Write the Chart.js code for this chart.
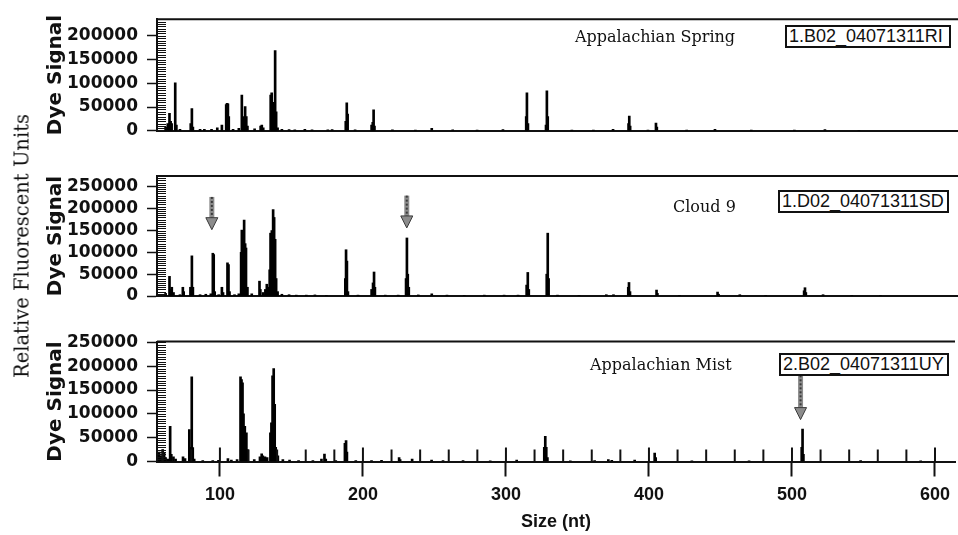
<!DOCTYPE html>
<html>
<head>
<meta charset="utf-8">
<script src="https://cdn.jsdelivr.net/npm/chart.js@4.4.1/dist/chart.umd.min.js"></script>
<style>
  body { margin: 0; background: #fff; }
  #wrap { position: relative; width: 958px; height: 535px; overflow: hidden; background: #fff; }
  #wrap canvas { position: absolute; left: 0; }
  .name { position: absolute; font-family: "DejaVu Serif"; font-size: 16px; color: #111; white-space: nowrap; line-height: 20px; }
  .tag { position: absolute; font-family: "Liberation Sans"; font-size: 18px; line-height: 19px; height: 23px;
         border: 2px solid #111; padding: 0 2px; box-sizing: border-box; color: #111; white-space: nowrap; background: #fff; }
  #rfu { position: absolute; left: 22px; top: 246px; transform: translate(-50%, -50%) rotate(-90deg);
         font-family: "DejaVu Serif"; font-size: 19.5px; color: #111; white-space: nowrap; }
</style>
</head>
<body>
<div id="wrap">
  <canvas id="spring" width="958" height="150" style="top:0px"></canvas>
  <canvas id="cloud" width="958" height="166" style="top:150px"></canvas>
  <canvas id="mist" width="958" height="219" style="top:316px"></canvas>

  <div id="rfu">Relative Fluorescent Units</div>

  <div class="name" style="left:575px; top:27px">Appalachian Spring</div>
  <div class="tag" style="left:785px; top:25px; width:166px">1.B02_04071311RI</div>

  <div class="name" style="left:673px; top:197px">Cloud 9</div>
  <div class="tag" style="left:778px; top:190px; width:171px">1.D02_04071311SD</div>

  <div class="name" style="left:590px; top:355px">Appalachian Mist</div>
  <div class="tag" style="left:779px; top:353px; width:170px">2.B02_04071311UY</div>
</div>

<script>
// size range (nt) and ticks
const xMin = 56, xMax = 614;
const sizeTicks = [60, 80, 100, 120, 140, 160, 180, 200, 220, 240, 260, 280, 300, 320, 340, 360, 380, 400,
  420, 440, 460, 480, 500, 520, 540, 560, 580, 600];
const sizeLabels = [100, 200, 300, 400, 500, 600];
const springTicks = [0, 50000, 100000, 150000, 200000];
const cloudTicks = [0, 50000, 100000, 150000, 200000, 250000];
const mistTicks = [0, 50000, 100000, 150000, 200000, 250000];
const yMinorStep = 5000;

// Appalachian Spring - peak sizes (nt) and heights (RFU)
const springSizes = [62, 63.5, 64.7, 65.5, 66.2, 68.7, 69.5, 72, 79.5, 80.3, 81, 86, 89, 94, 98, 101.2,
  104.2, 104.8, 105.4, 106, 109, 113, 115.1, 115.8, 116.4, 117.4, 118.2, 119, 124, 128.2, 129, 130,
  135.2, 135.9, 136.6, 137.5, 138.3, 139, 140, 143, 148, 152, 159, 164, 175, 178, 187.5, 188.2, 188.8,
  194, 205.5, 206.3, 206.9, 207.5, 220, 236, 247.4, 262, 279, 297, 313.2, 313.7, 314.4, 327, 327.6,
  328.2, 345, 360, 373.7, 384.5, 385, 385.6, 398, 403.6, 404.2, 425, 444.7, 470, 500, 521.3, 545];
const springHeights = [8000, 15000, 37000, 20000, 15000, 101000, 12000, 3000, 15000, 47000, 8000, 3000, 3000, 3000, 6000, 12000,
  55000, 58000, 57000, 30000, 3000, 5000, 75000, 25000, 30000, 51000, 30000, 10000, 4000, 10000, 12000, 6000,
  75000, 80000, 45000, 60000, 169000, 40000, 6000, 3000, 2500, 2000, 3000, 2000, 2000, 2500, 20000, 59000, 35000,
  2000, 12000, 18000, 44000, 10000, 2000, 1500, 5000, 2000, 1500, 2500, 30000, 80000, 15000, 12000, 84000,
  30000, 1500, 1500, 3000, 15000, 31000, 10000, 1500, 16000, 8000, 1500, 3000, 1500, 1500, 2500, 1000];

// Cloud 9
const cloudSizes = [62, 64.7, 65.5, 66.3, 67.5, 72, 74, 74.6, 79.3, 80.3, 81, 86, 90, 93.5, 94.9, 95.5, 96.2, 99,
  101.2, 102, 105.1, 105.8, 106.5, 110, 113, 114.6, 115.1, 115.8, 116.7, 117.4, 118, 119, 122, 127.4, 128,
  130, 131.5, 132.5, 133.5, 134.5, 135.1, 136, 136.9, 137.6, 138.3, 139, 140, 143, 148, 153, 160, 166, 174,
  187.2, 187.7, 188.3, 189, 196, 205.5, 206.5, 207.2, 207.8, 215, 224, 229.5, 230.1, 230.7, 231.4, 238,
  247.4, 258, 270, 284, 297.8, 307.5, 313.5, 314.3, 315, 327.5, 328.2, 328.8, 335, 350, 369, 374, 384.3,
  384.8, 385.5, 404, 404.6, 420, 446.5, 447.2, 462, 480, 506.8, 507.4, 508, 520, 540, 560];
const cloudHeights = [6000, 45000, 15000, 20000, 8000, 3000, 20000, 10000, 20000, 92000, 20000, 3000, 4000, 5000, 98000, 95000, 10000, 3000,
  20000, 8000, 76000, 72000, 10000, 3000, 5000, 100000, 151000, 100000, 174000, 120000, 110000, 20000, 5000, 34000, 15000,
  8000, 15000, 27000, 20000, 60000, 144000, 150000, 198000, 180000, 130000, 40000, 10000, 4000, 3000, 2000, 2000, 2500, 1500,
  40000, 106000, 80000, 10000, 2000, 15000, 30000, 55000, 20000, 2000, 2000, 40000, 133000, 50000, 20000, 2500,
  5000, 2000, 1500, 2000, 2000, 2000, 25000, 54000, 15000, 50000, 144000, 40000, 2000, 1500, 3000, 3000, 20000,
  31000, 10000, 13600, 6000, 1500, 9000, 4000, 3000, 1500, 12000, 19000, 8000, 3000, 1500, 1000];

// Appalachian Mist
const mistSizes = [57.5, 58.5, 60, 61, 62, 63.5, 65.2, 66, 67.5, 69, 74.2, 75.6, 78.6, 79.3, 80.3, 81, 82, 88, 95, 99,
  105.6, 108, 112, 114.4, 115.1, 115.8, 116.5, 117.4, 118.5, 119.2, 124, 128, 129.2, 130, 131.5, 133, 135.3,
  136, 136.8, 137.6, 138.3, 139, 140.5, 144, 148.7, 155, 165, 171, 173.1, 174, 181, 187.4, 188.2, 188.8, 195,
  206, 213, 225.3, 226, 234.4, 248, 256, 270, 289, 307.5, 326.8, 327.5, 328.2, 329, 345, 362, 371.6, 374, 390,
  404, 404.7, 430, 470, 506.8, 507.4, 508, 548, 590];
const mistHeights = [20000, 12000, 25000, 18000, 8000, 5000, 74000, 15000, 10000, 5000, 10000, 6000, 67000, 30000, 178000, 29000, 5000, 2000, 2000, 2500,
  6000, 3000, 4000, 178000, 172000, 165000, 100000, 74000, 60000, 25000, 4000, 10000, 16000, 12000, 10000, 8000, 60000,
  81000, 180000, 195000, 120000, 30000, 12000, 4000, 3000, 2000, 2000, 5000, 15600, 5000, 2000, 38000, 43700, 20000, 2000,
  2000, 2500, 8000, 4000, 5000, 3000, 2000, 2000, 1500, 3000, 30000, 52700, 30000, 8000, 1500, 2000, 4000, 2500, 3000,
  17700, 8000, 1500, 1500, 30000, 68000, 15000, 2000, 1500];

// y ranges of each panel
const springMax = 235000, cloudMax = 275000, mistMax = 252000;

// arrows: [size, from RFU, tip RFU]
const cloudArrows = [[94.2, 227000, 152000], [230, 230000, 156000]];
const mistArrows = [[506, 181000, 88000]];

const ink = '#111';

const tracePlugin = {
  id: 'trace',
  afterDraw(chart, args, opts) {
    const ctx = chart.ctx, a = chart.chartArea;
    const xs = chart.scales.x, ys = chart.scales.y;
    ctx.save();
    // top frame
    ctx.strokeStyle = ink;
    ctx.lineWidth = 2;
    ctx.beginPath();
    ctx.moveTo(a.left, a.top);
    ctx.lineTo(a.right, a.top);
    ctx.stroke();
    // inner minor ticks on y axis
    ctx.lineWidth = 1;
    for (let v = 0; v <= ys.max; v += yMinorStep) {
      const y = Math.round(ys.getPixelForValue(v)) + 0.5;
      ctx.beginPath();
      ctx.moveTo(a.left, y);
      ctx.lineTo(a.left + 9, y);
      ctx.stroke();
    }
    // upward ruler ticks on the size axis
    if (opts.ruler) {
      ctx.lineWidth = 2;
      xs.ticks.forEach(t => {
        const x = xs.getPixelForValue(t.value);
        const len = sizeLabels.includes(t.value) ? 14 : 12;
        ctx.beginPath();
        ctx.moveTo(x, a.bottom);
        ctx.lineTo(x, a.bottom - len);
        ctx.stroke();
      });
    }
    // arrows
    (opts.arrows || []).forEach(([s, from, tip]) => {
      const x = xs.getPixelForValue(s);
      const y0 = ys.getPixelForValue(from), y1 = ys.getPixelForValue(tip);
      const hh = 12, hw = 6;
      ctx.fillStyle = '#8c8c8c';
      ctx.strokeStyle = '#3a3a3a';
      ctx.lineWidth = 1;
      ctx.fillRect(x - 2.5, y0, 5, y1 - hh - y0);
      ctx.setLineDash([2, 2]);
      ctx.beginPath();
      ctx.moveTo(x, y0);
      ctx.lineTo(x, y1 - hh);
      ctx.lineWidth = 2;
      ctx.stroke();
      ctx.setLineDash([]);
      ctx.lineWidth = 1;
      ctx.beginPath();
      ctx.moveTo(x - hw, y1 - hh);
      ctx.lineTo(x + hw, y1 - hh);
      ctx.lineTo(x, y1);
      ctx.closePath();
      ctx.fill();
      ctx.stroke();
    });
    ctx.restore();
  }
};

function makePanel(id, sizes, heights, yMax, yTicks, arrows, bottomAxis, pad) {
  const xAxis = bottomAxis ? {
    type: 'linear', min: xMin, max: xMax, offset: false,
    afterBuildTicks: s => { s.ticks = sizeTicks.map(v => ({ value: v })); },
    border: { display: true, color: ink, width: 2 },
    grid: {
      offset: false, drawOnChartArea: false, drawTicks: true, tickLength: 15, tickWidth: 2,
      tickColor: c => (c.tick && sizeLabels.includes(c.tick.value)) ? ink : 'rgba(0,0,0,0)'
    },
    ticks: {
      autoSkip: false, maxRotation: 0, padding: 8, color: ink,
      font: { family: 'Liberation Sans', size: 18, weight: 'bold' },
      callback: v => sizeLabels.includes(v) ? String(v) : ''
    },
    title: {
      display: true, text: 'Size (nt)', color: ink, padding: { top: 4, bottom: 2 },
      font: { family: 'Liberation Sans', size: 18, weight: 'bold' }
    },
    afterFit: s => { s.height = 73.5; }
  } : {
    type: 'linear', min: xMin, max: xMax, offset: false,
    border: { display: true, color: ink, width: 2 },
    grid: { offset: false, drawOnChartArea: false, drawTicks: false },
    ticks: { display: false }
  };

  return new Chart(document.getElementById(id).getContext('2d'), {
    type: 'bar',
    data: {
      datasets: [{
        data: sizes.map((s, i) => ({ x: s, y: heights[i] })),
        backgroundColor: '#000',
        borderWidth: 0,
        barThickness: 2,
        grouped: false
      }]
    },
    options: {
      responsive: false,
      animation: false,
      devicePixelRatio: 1,
      layout: { padding: pad },
      plugins: {
        legend: { display: false },
        tooltip: { enabled: false },
        trace: { arrows: arrows, ruler: bottomAxis }
      },
      scales: {
        x: xAxis,
        y: {
          min: 0, max: yMax,
          afterBuildTicks: s => { s.ticks = yTicks.map(v => ({ value: v })); },
          border: { display: true, color: ink, width: 2 },
          grid: { drawOnChartArea: false, drawTicks: true, tickLength: 10, tickColor: ink, tickWidth: 1.5 },
          ticks: {
            autoSkip: false, padding: 9, color: ink,
            font: { family: 'DejaVu Sans', size: 17, weight: 'bold' },
            callback: v => String(v)
          },
          title: {
            display: true, text: 'Dye Signal', color: ink, padding: { top: 6, bottom: 4 },
            font: { family: 'DejaVu Sans', size: 20, weight: 'bold' }
          },
          afterFit: s => { s.width = 119; }
        }
      }
    },
    plugins: [tracePlugin]
  });
}

makePanel('spring', springSizes, springHeights, springMax, springTicks, [], false, { left: 38, right: 0, top: 11, bottom: 19 });
makePanel('cloud', cloudSizes, cloudHeights, cloudMax, cloudTicks, cloudArrows, false, { left: 38, right: 0, top: 26, bottom: 20 });
makePanel('mist', mistSizes, mistHeights, mistMax, mistTicks, mistArrows, true, { left: 38, right: 0, top: 25.5, bottom: 0 });
</script>
</body>
</html>
